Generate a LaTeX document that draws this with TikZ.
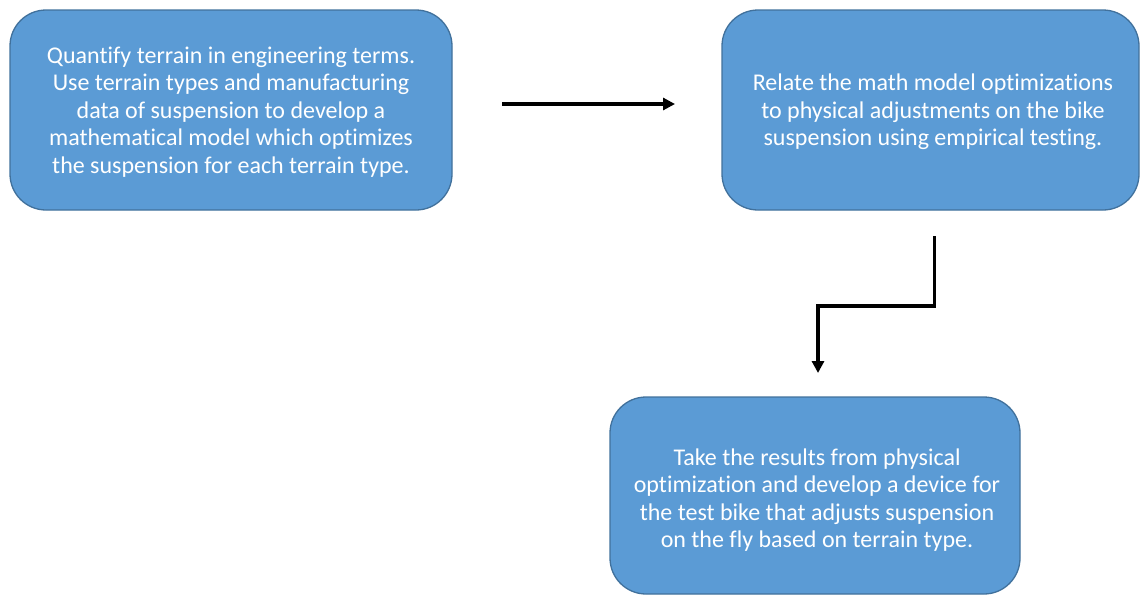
\documentclass[tikz,border=0pt]{standalone}
\usepackage{fontspec}
\setmainfont[Ligatures={NoCommon}]{Carlito}
\usetikzlibrary{arrows.meta}
\definecolor{boxfill}{HTML}{5B9BD5}
\definecolor{boxline}{HTML}{41719C}
\begin{document}
\begin{tikzpicture}[x=1pt,y=-1pt,
  stepbox/.style={draw=boxline, fill=boxfill, line width=1.3pt, rounded corners=36pt},
  boxtext/.style={text=white, align=center, font=\fontsize{24}{27.5}\selectfont, inner sep=0pt},
  conn/.style={line width=3.2pt, -{Triangle[length=12pt,width=12pt]}}]
\useasboundingbox (0,0) rectangle (1140,595);
\path[stepbox] (10,10) rectangle (452,210);
\path[stepbox] (722,10) rectangle (1139,210);
\path[stepbox] (610,397) rectangle (1020,594);
\node[boxtext] (b1) at (231,112) {Quantify terrain in engineering terms.\\Use terrain types and manufacturing\\data of suspension to develop a\\mathematical model which optimizes\\the suspension for each terrain type.};
\node[boxtext] (b2) at (933,112) {Relate the math model optimizations\\to physical adjustments on the bike\\suspension using empirical testing.};
\node[boxtext] (b3) at (817,500) {Take the results from physical\\optimization and develop a device for\\the test bike that adjusts suspension\\on the fly based on terrain type.};
\coordinate (a1s) at (502,104);
\coordinate (a1e) at (675,104);
\coordinate (a2s) at (934.5,236);
\coordinate (a2m) at (818,306);
\coordinate (a2e) at (818,373);
\draw[conn] (a1s) -- (a1e);
\draw[conn, line join=miter] (a2s) |- (a2m) -- (a2e);
\end{tikzpicture}
\end{document}
